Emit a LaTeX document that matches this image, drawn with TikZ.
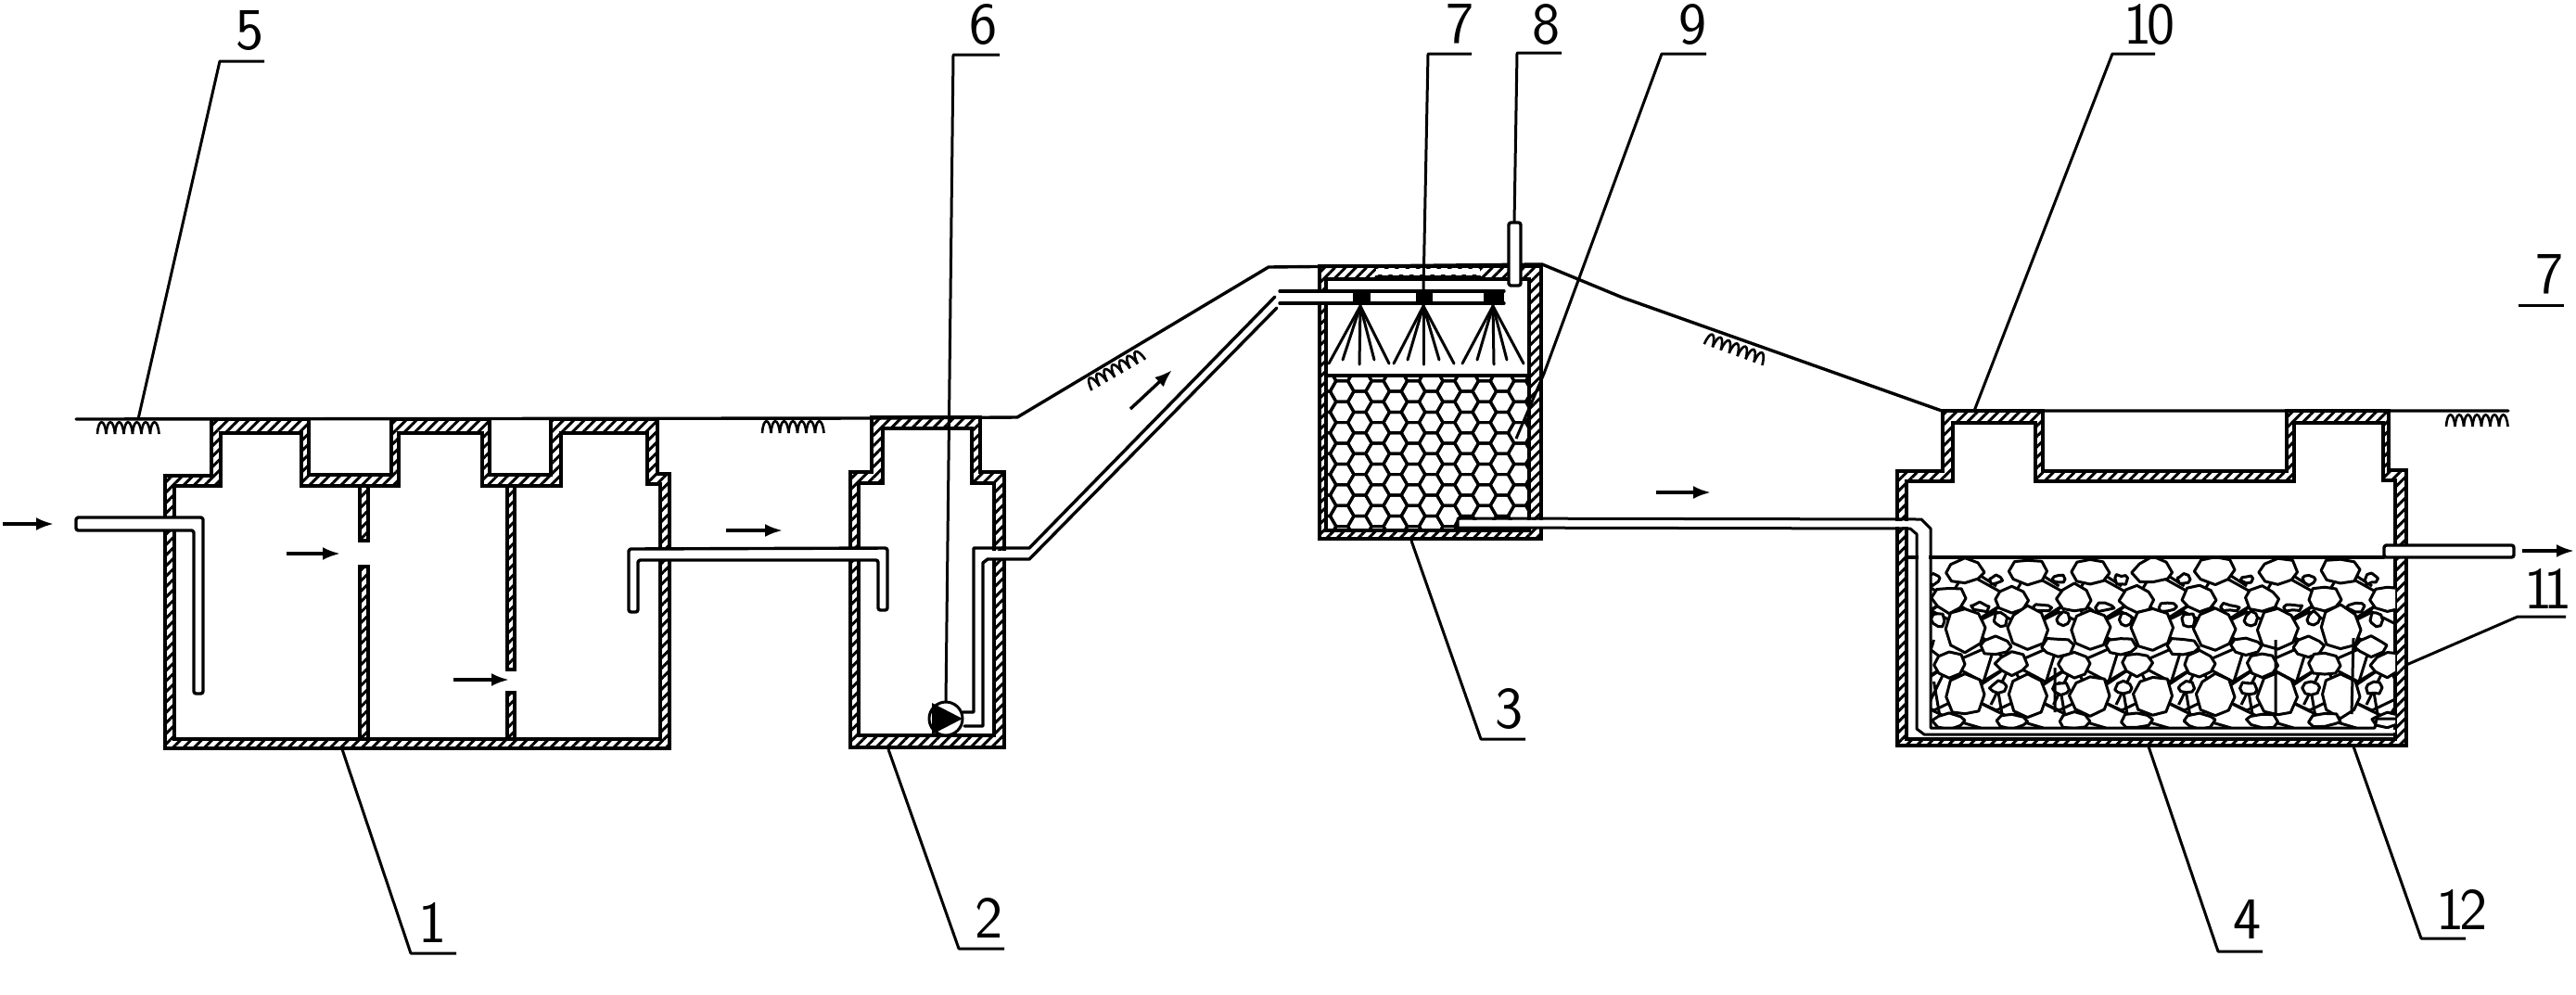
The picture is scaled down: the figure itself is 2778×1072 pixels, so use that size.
\documentclass[tikz,border=0pt]{standalone}
\usetikzlibrary{patterns.meta,arrows.meta,calc}
\tikzset{
  wall/.style={draw=black,line width=3.4pt,even odd rule,line join=miter,
    pattern={Lines[angle=45,distance=8pt,line width=3pt]},pattern color=black},
  ln/.style={draw=black,line width=3.4pt,line join=round,line cap=round},
  thin ln/.style={draw=black,line width=3pt,line join=round,line cap=round},
  leader/.style={draw=black,line width=3pt,line join=round},
  pipe/.style={draw=black,fill=white,line width=3.4pt,line join=round,rounded corners=2.5pt},
  web/.style={draw=black,line width=3pt},
  stonel/.style={draw=black,fill=white,line width=3pt,line join=round},
  hexl/.style={draw=black,line width=3.2pt,line join=round},
  spray/.style={draw=black,line width=3pt,line cap=round},
  flow/.style={draw=black,line width=3.4pt,-{Latex[length=19pt,width=14pt]}},
  lab/.style={inner sep=0pt,font=\sffamily\fontsize{64}{64}\selectfont},
  gr/.style={draw=black,line width=2.6pt}
}
\newcommand\grass[3]{%
  \begin{scope}[shift={(#1,#2)},rotate=#3]
    \foreach \k in {0,...,6}
      \draw[gr] (\k*9.5,15) .. controls (\k*9.5+1,-2) and (\k*9.5+8,-2) .. (\k*9.5+9.5,15);
  \end{scope}}
\newcommand\stone[4]{%
  \draw[stonel] ({#1+#3},{#2}) \foreach \a in {45,90,...,315} {
     -- ({#1+#3*(1+.09*rand)*cos(\a)},{#2+#4*(1+.09*rand)*sin(\a)}) } -- cycle;}
\newcommand\stonerow[6]{%
  \foreach \n in {0,...,#5} {\stone{#1+#6*\n}{#2+2*rand}{#3}{#4}}}
\begin{document}
\begin{tikzpicture}[x=1pt,y=-1pt]
\useasboundingbox (0,0) rectangle (2778,1072);
\fill[white] (0,0) rectangle (2778,1072);

% ---------- walls
\path[wall] (228,452)--(333,452)--(333,512)--(422,512)--(422,452)--(528,452)--(528,512)--(594,512)--(594,452)--(709,452)--(709,511)--(722,511)--(722,807)--(178,807)--(178,513)--(228,513)--cycle
  (238,467)--(238,524)--(188,524)--(188,797)--(712,797)--(712,522)--(698,522)--(698,467)--(605,467)--(605,524)--(520,524)--(520,467)--(430,467)--(430,524)--(325,524)--(325,467)--cycle;
\path[wall] (940,450)--(1057,450)--(1057,509)--(1083,509)--(1083,806)--(917,806)--(917,509)--(940,509)--cycle
  (952,462)--(952,521)--(926,521)--(926,793)--(1072,793)--(1072,521)--(1048,521)--(1048,462)--cycle;
\path[wall] (1423,287)--(1662,287)--(1662,581)--(1423,581)--cycle
  (1430,301)--(1649,301)--(1649,572)--(1430,572)--cycle;
\path[wall] (2095,443)--(2203,443)--(2203,508)--(2466,508)--(2466,443)--(2576,443)--(2576,507)--(2595,507)--(2595,804)--(2046,804)--(2046,508)--(2095,508)--cycle
  (2106,456)--(2106,519)--(2056,519)--(2056,797)--(2583,797)--(2583,518)--(2570,518)--(2570,456)--(2474,456)--(2474,519)--(2195,519)--(2195,456)--cycle;

% baffles in tank 1
\path[wall] (388,524) rectangle (397,583);
\path[wall] (388,611) rectangle (397,797);
\path[wall] (547,524) rectangle (555,722);
\path[wall] (547,747) rectangle (555,797);

% ---------- ground line
\draw[ln] (82,452)--(940,451)--(1097,450)--(1368,288)--(1663,285)--(1750,321)--(2094,443)--(2705,443);
\grass{105}{453}{0}
\grass{822}{452}{0}
\grass{1170}{408}{30}
\grass{1843}{357}{-20}
\grass{2638}{445}{0}

% ---------- tank 1 pipes
\draw[pipe] (82,558)--(219,558)--(219,748)--(209,748)--(209,572)--(82,572)--cycle;
\draw[pipe] (678,660)--(678,592)--(957,591)--(957,658)--(947,658)--(947,604)--(688,604)--(688,660)--cycle;

% ---------- tank 2: pump and riser
\fill[white] (1066,594) rectangle (1090,602);
\draw[ln] (1038,768)--(1050,768)--(1050,591)--(1110,591)--(1375,320);
\draw[ln] (1040,783)--(1060,783)--(1060,607)--(1065,603)--(1110,603)--(1377,332);
\draw[draw=black,fill=white,line width=3pt] (1020,775) circle [radius=18pt];
\fill[black] (1005,758)--(1038,775)--(1005,792)--cycle;

% ---------- tank 3: media, nozzles
\begin{scope}
  \clip (1430,405) rectangle (1649,572);
  \foreach \i in {0,...,12}
    \foreach \j in {0,...,8} {
      \pgfmathsetmacro\cx{1428+19.2*\i}
      \pgfmathsetmacro\cy{399.6+22.4*\j+11.2*(1-mod(\i,2))}
      \draw[hexl] (\cx+12.9,\cy)--(\cx+6.45,\cy+11.2)--(\cx-6.45,\cy+11.2)--(\cx-12.9,\cy)--(\cx-6.45,\cy-11.2)--(\cx+6.45,\cy-11.2)--cycle;
    }
\end{scope}
\draw[ln] (1430,405)--(1649,405);
\fill[white] (1484,290) rectangle (1596,296);
\draw[ln] (1484,299)--(1596,299);
\fill[white] (1378,316) rectangle (1431,325);
\draw[ln] (1380,314)--(1622,314);
\draw[ln] (1380,327)--(1622,327);
\fill[white] (1380,316) rectangle (1622,325);
\fill[black] (1459,312) rectangle (1478,329);
\fill[black] (1527,312) rectangle (1545,329);
\fill[black] (1600,312) rectangle (1622,329);
\foreach \ax/\a/\b/\c/\d/\e in {
    1467/1433/1448/1466/1482/1498,
    1535/1503/1518/1535/1552/1568,
    1610/1577/1593/1611/1625/1643} {
  \draw[spray] (\ax,330)--(\a,392);
  \draw[spray] (\ax,330)--(\b,388);
  \draw[spray] (\ax,330)--(\c,393);
  \draw[spray] (\ax,330)--(\d,388);
  \draw[spray] (\ax,330)--(\e,392);
}
\draw[pipe] (1627,240) rectangle (1640,308);

% ---------- tank 4: stones
\begin{scope}
  \clip (2082,601) rectangle (2583,785);
  \pgfmathsetseed{4217}
  \foreach \n in {-1,...,8} {
    \pgfmathsetmacro\xa{2119+67.5*\n}
    \pgfmathsetmacro\xb{2102+67.5*\n}
    \pgfmathsetmacro\xc{2150+67.5*\n}
    \draw[web] (\xa,617)--(\xb,645)--(\xa,677)--(\xc,695)--(\xb,716)--(\xa,750)--(\xb,775);
    \draw[web] (\xa,617)--(\xb+67.5,645)--(\xa,677)--(\xb+67.5,716)--(\xa,750)--(\xb+67.5,775);
    \draw[web] (\xa,610)--(\xa+34,632) (\xb,645)--(\xb+34,668)--(\xb+67.5,645) (\xa,677)--(\xa+34,660)--(\xa+67.5,677)
               (\xb,716)--(\xb+36,735)--(\xb+67.5,716) (\xa,750)--(\xa+34,766)--(\xa+67.5,750) (\xb,775)--(\xb+34,785);
    \draw[web] (\xa+34,690)--(\xa+20,735) (\xa+34,735)--(\xa+40,770) (\xa+50,715)--(\xa+28,760);
  }
  \stonerow{2119}{616}{21}{14}{6}{67.5}
  \stonerow{2085}{625}{7}{5}{7}{67.5}
  \stonerow{2102}{646}{18}{14}{7}{67.5}
  \stonerow{2135}{655}{10}{4}{6}{67.5}
  \stonerow{2090}{668}{7}{8}{7}{67.5}
  \stonerow{2119}{678}{22}{23}{6}{67.5}
  \stonerow{2152}{697}{17}{10}{6}{67.5}
  \stonerow{2102}{716}{17}{13}{7}{67.5}
  \stonerow{2119}{750}{21}{23}{6}{67.5}
  \stonerow{2155}{742}{9}{7}{6}{67.5}
  \stonerow{2102}{777}{17}{8}{7}{67.5}
  \draw[web] (2454,690)--(2454,772) (2538,688)--(2536,770) (2216,720)--(2216,768);
\end{scope}
\draw[ln] (2056,601)--(2571,601);
\draw[pipe] (2571,588)--(2711,588)--(2711,601)--(2571,601)--cycle;

% ---------- pipe from tank 3 to tank 4
\fill[white] (1572,561) rectangle (1666,568);
\fill[white] (2040,562) rectangle (2067,568);
\fill[white] (2069,572) rectangle (2080,790);
\fill[white] (2069,787) rectangle (2583,790);
\draw[thin ln] (1572,569)--(1572,559)--(2072,560)--(2082,570)--(2082,785)--(2561,785)--(2563,775)--(2583,775);
\draw[thin ln] (1572,569)--(2060,570)--(2067,576)--(2067,786)--(2075,792)--(2583,792);

% ---------- flow arrows
\draw[flow] (3,565)--(58,565);
\draw[flow] (309,597)--(367,597);
\draw[flow] (489,733)--(549,733);
\draw[flow] (783,572)--(844,572);
\draw[flow] (1219,441)--(1264,399);
\draw[flow] (1786,531)--(1845,531);
\draw[flow] (2720,594)--(2776,594);

% ---------- labels
\node[lab] (l1)  at (467,995)  {1};
\node[lab] (l2)  at (1067,990) {2};
\node[lab] (l3)  at (1628,764) {3};
\node[lab] (l4)  at (2424,991) {4};
\node[lab] (l5)  at (270,33)   {5};
\node[lab] (l6)  at (1061,27)  {6};
\node[lab] (l7)  at (1575,26)  {7};
\node[lab] (l8)  at (1668,27)  {8};
\node[lab] (l9)  at (1826,27)  {9};
\node[lab] (l10) at (2318,27)  {1\kern-6pt 0};
\node[lab] (l11) at (2748,635) {1\kern-10pt 1};
\node[lab] (l12) at (2655,981) {1\kern-5pt 2};
\node[lab] (l7b) at (2750,296) {7};

% ---------- leaders
\draw[leader] (369,808)--(443,1028)--(492,1028);
\draw[leader] (958,808)--(1034,1023)--(1083,1023);
\draw[leader] (1522,583)--(1597,797)--(1645,797);
\draw[leader] (2317,805)--(2392,1026)--(2440,1026);
\draw[leader] (2538,805)--(2611,1012)--(2659,1012);
\draw[leader] (149,452)--(237,66)--(285,66);
\draw[leader] (1020,757)--(1028,59)--(1078,59);
\draw[leader] (1535,314)--(1540,58)--(1587,58);
\draw[leader] (1633,240)--(1636,57)--(1684,57);
\draw[leader] (1635,473)--(1665,403)--(1792,58)--(1840,58);
\draw[leader] (2129,443)--(2278,58)--(2324,58);
\draw[leader] (2595,717)--(2715,665)--(2767,665);
\draw[leader] (2716,329)--(2765,329);
\end{tikzpicture}
\end{document}
